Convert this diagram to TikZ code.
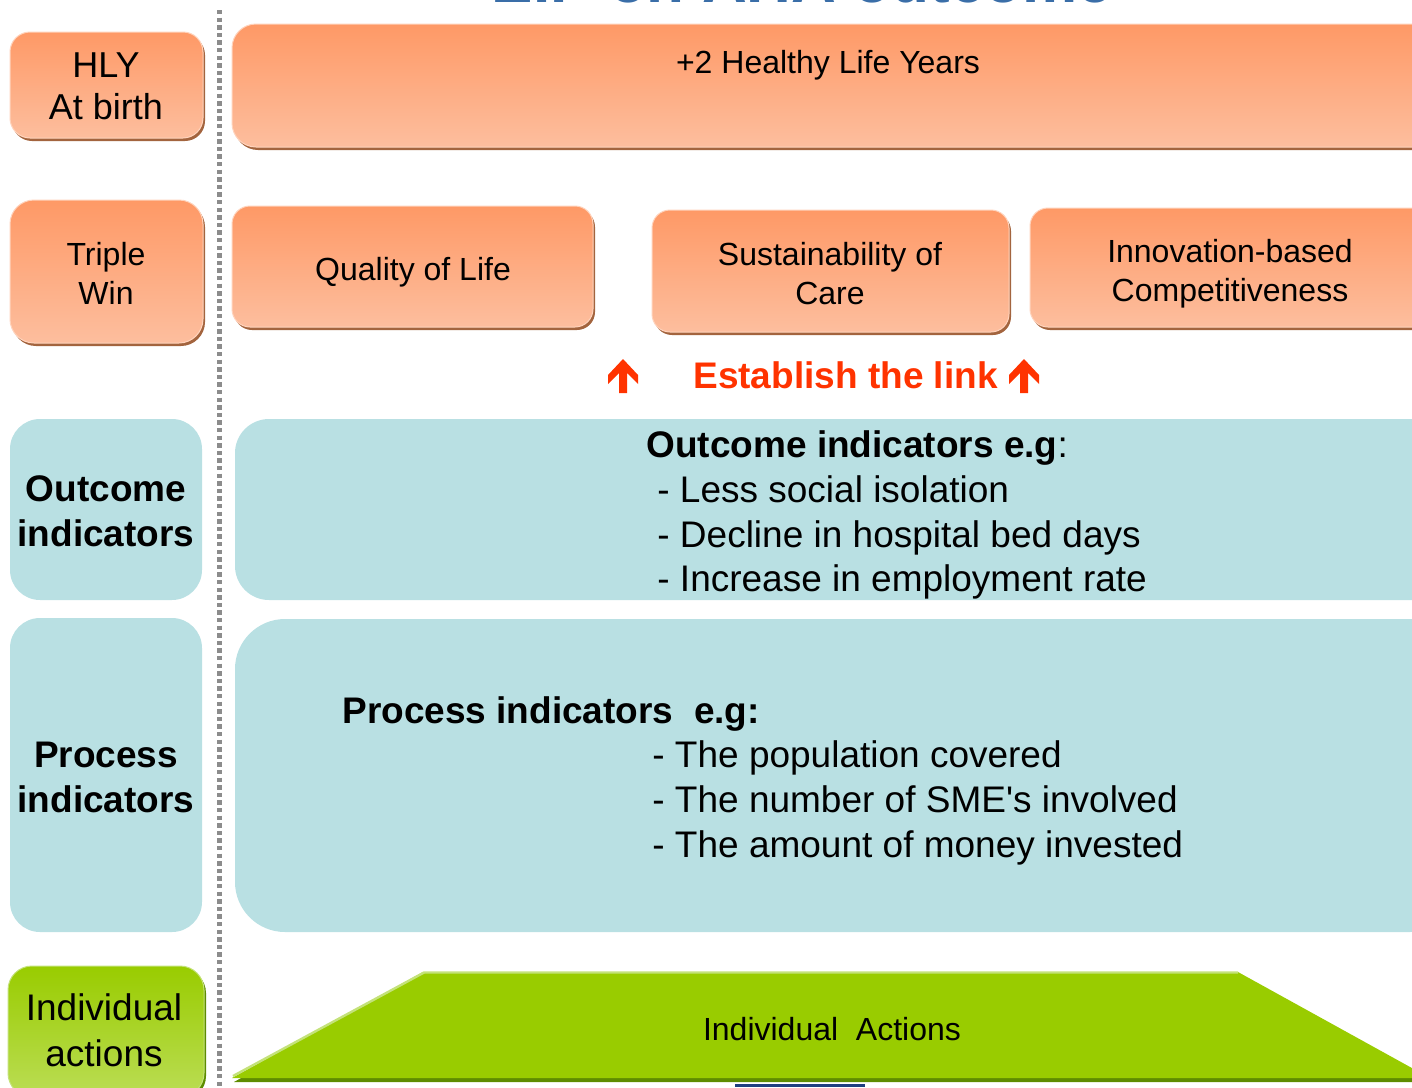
\documentclass[tikz,border=0pt]{standalone}
\usepackage{fontspec}
\setmainfont{Liberation Sans}[Ligatures=TeXOff]
\definecolor{orTop}{HTML}{FE9966}
\definecolor{orBot}{HTML}{FDBE9E}
\definecolor{orShadow}{HTML}{A3643E}
\definecolor{orHi}{HTML}{FFD3BC}
\definecolor{lblue}{HTML}{B9E0E3}
\definecolor{grTop}{HTML}{99CC00}
\definecolor{grBot}{HTML}{BBDD55}
\definecolor{grShadow}{HTML}{5E8C00}
\definecolor{grHi}{HTML}{C4E27A}
\definecolor{linkred}{HTML}{FF3300}
\definecolor{titleblue}{HTML}{3A6EA8}
\definecolor{dotgray}{HTML}{8C8C8C}
\definecolor{navyblue}{HTML}{1F3F80}
\newcommand\fsA{\fontsize{16}{19.5}\selectfont}
\newcommand\fsB{\fontsize{18.5}{22.5}\selectfont}
\newcommand\fsC{\fontsize{18}{21}\selectfont}
\newcommand\fsD{\fontsize{18.5}{23}\selectfont}
\newcommand\orangeshape[5]{%
  \fill[orShadow, rounded corners=#5] (#1+2,#2+3) rectangle (#3+2,#4+3);
  \shade[top color=orTop, bottom color=orBot, draw=orHi, line width=0.5pt, rounded corners=#5] (#1,#2) rectangle (#3,#4);}
\begin{document}
\begin{tikzpicture}[x=0.5pt,y=-0.5pt,
  txt/.style={inner sep=0pt, text=black},
  linkarrow/.style={fill=linkred}]
\useasboundingbox (0,0) rectangle (1412,1087);
\clip (0,0) rectangle (1412,1087);

% partial title (cut off at the top edge)
\node[anchor=base, inner sep=0pt, font=\bfseries\fontsize{31}{36}\selectfont, text=titleblue] (title) at (802,2.5) {EIP on AHA outcome};

% dotted separator
\draw[dotgray, line width=2.5pt, dash pattern=on 2.2pt off 1.6pt] (219,10) -- (219,1087);

% orange boxes
\orangeshape{10}{32}{203}{138}{10pt}
\orangeshape{10}{200}{203}{343}{12pt}
\orangeshape{232}{24}{1440}{147}{12pt}
\orangeshape{232}{206}{593}{327}{9pt}
\orangeshape{652}{210}{1009}{332}{9pt}
\orangeshape{1030}{208}{1440}{327}{9pt}

% blue boxes
\fill[lblue, rounded corners=15pt] (10,419) rectangle (202,600);
\fill[lblue, rounded corners=15pt] (10,618) rectangle (202,932);
\fill[lblue, rounded corners=17pt] (235,419) rectangle (1460,600);
\fill[lblue, rounded corners=25pt] (235,619) rectangle (1460,932);

% green left box
\fill[grShadow, rounded corners=12pt] (10,969) rectangle (206,1100);
\shade[top color=grTop, bottom color=grBot, draw=grHi, line width=0.5pt, rounded corners=12pt] (8,966) rectangle (204,1097);

% green trapezoid
\fill[grShadow] (234,1082) -- (423,976) -- (1238,976) -- (1440,1088) -- (1440,1082) -- cycle;
\fill[grTop] (232,1078) -- (423,972) -- (1238,972) -- (1430,1078) -- cycle;
\draw[grHi, line width=1.2pt] (233,1076) -- (424,972.5) -- (1238,972.5);
\fill[navyblue] (735,1084) rectangle (865,1087);

% left labels
\node[txt, align=center, font=\fsC] (hly) at (106,86) {HLY\\At birth};
\node[txt, align=center, font=\fsA] (triple) at (106,273) {Triple\\Win};
\node[txt, align=center, font=\bfseries\fsB] (outl) at (106,511) {Outcome\\indicators};
\node[txt, align=center, font=\bfseries\fsB] (procl) at (106,777) {Process\\indicators};
\node[txt, align=center, font=\fsD] (indl) at (104,1030) {Individual\\actions};

% right orange texts
\node[txt, anchor=base, font=\fsA] (hlyears) at (828,73) {+2 Healthy Life Years};
\node[txt, anchor=base, font=\fsA] (qol) at (413,280) {Quality of Life};
\node[txt, align=center, font=\fsA] (soc) at (830,274) {Sustainability of\\Care};
\node[txt, align=center, font=\fsA] (ibc) at (1230,274) {Innovation-based\\Competitiveness};

% establish the link
\fill[linkarrow] (623,359) -- (638,375) -- (638,384) -- (627,373) -- (627,393) -- (619,393) -- (619,373) -- (608,384) -- (608,375) -- cycle;
\fill[linkarrow] (1024,359) -- (1039,375) -- (1039,384) -- (1028,373) -- (1028,393) -- (1020,393) -- (1020,373) -- (1009,384) -- (1009,375) -- cycle;
\node[txt, anchor=base west, text=linkred, font=\bfseries\fsB] (link) at (693,388) {Establish the link};

% outcome indicators
\node[txt, anchor=base west, font=\fsB] (oh) at (646,457) {\textbf{Outcome indicators e.g}:};
\node[txt, anchor=base west, font=\fsB] (o1) at (657,502) {- Less social isolation};
\node[txt, anchor=base west, font=\fsB] (o2) at (657,547) {- Decline in hospital bed days};
\node[txt, anchor=base west, font=\fsB] (o3) at (657,591) {- Increase in employment rate};

% process indicators
\node[txt, anchor=base west, font=\bfseries\fsB] (ph) at (342,723) {Process indicators\ \ e.g:};
\node[txt, anchor=base west, font=\fsB] (p1) at (652,767) {- The population covered};
\node[txt, anchor=base west, font=\fsB] (p2) at (652,812) {- The number of SME's involved};
\node[txt, anchor=base west, font=\fsB] (p3) at (652,857) {- The amount of money invested};

% green texts
\node[txt, anchor=base, font=\fsA] (ia) at (832,1040) {Individual\ \ Actions};
\end{tikzpicture}
\end{document}
